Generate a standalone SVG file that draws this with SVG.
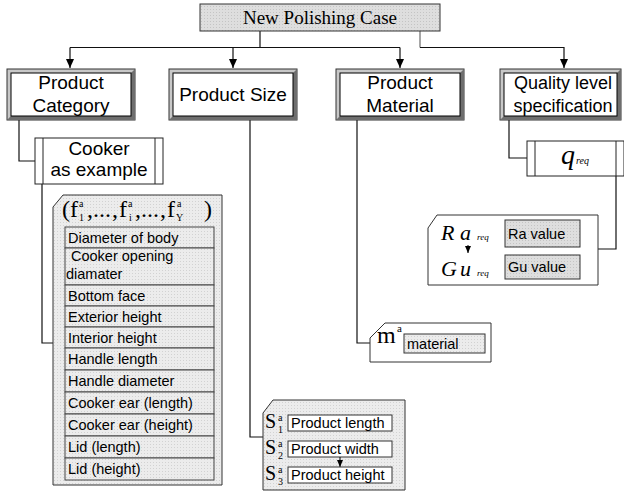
<svg xmlns="http://www.w3.org/2000/svg" width="624" height="495" viewBox="0 0 624 495">
<defs>
<pattern id="dots" width="3" height="3" patternUnits="userSpaceOnUse"><rect width="3" height="3" fill="#ececec"/><rect width="1" height="1" fill="#d2d2d2"/></pattern>
<pattern id="dots2" width="3" height="3" patternUnits="userSpaceOnUse"><rect width="3" height="3" fill="#dedede"/><rect width="1" height="1" fill="#c4c4c4"/></pattern>
<marker id="arr" markerWidth="8" markerHeight="9" refX="4" refY="9" orient="0" markerUnits="userSpaceOnUse"><path d="M0,0 L8,0 L4,9 z" fill="#000"/></marker>
<marker id="arrs" markerWidth="6" markerHeight="7" refX="3" refY="7" orient="0" markerUnits="userSpaceOnUse"><path d="M0,0 L6,0 L3,7 z" fill="#000"/></marker>
</defs>
<style>
.sans{font-family:"Liberation Sans",Arial,sans-serif;fill:#000}
.serif{font-family:"Liberation Serif","Times New Roman",serif;fill:#000}
.hdr{font-size:19px;text-anchor:middle}
.row{font-size:14.5px}
.outer{fill:#c8c8c8;stroke:#333;stroke-width:1}
.dark{fill:#6e6e6e}
.inner{fill:#fff;stroke:#000;stroke-width:1}
.ln{fill:none;stroke:#111;stroke-width:1.2}
.cell{fill:url(#dots);stroke:#444;stroke-width:1}
.note{stroke:#333;stroke-width:1}
.f{font-size:24px}
.s{font-size:10px}
</style>

<g id="connectors">
<path class="ln" d="M260,31 V47.5"/>
<path class="ln" d="M70,47.5 H400"/>
<path class="ln" d="M70,47.5 V68" marker-end="url(#arr)"/>
<path class="ln" d="M233,47.5 V68" marker-end="url(#arr)"/>
<path class="ln" d="M400,47.5 V68" marker-end="url(#arr)"/>
<path d="M420,31 V47.5" fill="none" stroke="#888" stroke-width="1.5"/>
<path class="ln" d="M420,47.5 H564 V68" marker-end="url(#arr)"/>
<path class="ln" d="M19,120 V161 H35"/>
<path class="ln" d="M42,184 V343 H53"/>
<path class="ln" d="M250,120 V437 H263"/>
<path class="ln" d="M357,120 V343 H370"/>
<path class="ln" d="M509,120 V158 H527"/>
<path class="ln" d="M616,176 V249 H598"/>
</g>

<g id="root">
<rect x="200" y="4" width="240" height="27" fill="url(#dots2)" stroke="#333"/>
<text class="serif" x="320" y="24" font-size="19" text-anchor="middle">New Polishing Case</text>
</g>

<g id="category">
<rect class="outer" x="7" y="69" width="128" height="51"/>
<polygon class="dark" points="135,69 135,120 7,120 11,116 131,116 131,73"/>
<rect class="inner" x="11" y="73" width="120" height="43"/>
<text class="sans hdr" x="71" y="89">Product</text>
<text class="sans hdr" x="71" y="112">Category</text>
</g>

<g id="size">
<rect class="outer" x="169" y="69" width="128" height="51"/>
<polygon class="dark" points="297,69 297,120 169,120 173,116 293,116 293,73"/>
<rect class="inner" x="173" y="73" width="120" height="43"/>
<text class="sans hdr" x="233" y="101">Product Size</text>
</g>

<g id="material">
<rect class="outer" x="336" y="69" width="128" height="51"/>
<polygon class="dark" points="464,69 464,120 336,120 340,116 460,116 460,73"/>
<rect class="inner" x="340" y="73" width="120" height="43"/>
<text class="sans hdr" x="400" y="89">Product</text>
<text class="sans hdr" x="400" y="112">Material</text>
</g>

<g id="quality">
<rect class="outer" x="500" y="69" width="121" height="51"/>
<polygon class="dark" points="621,69 621,120 500,120 504,116 617,116 617,73"/>
<rect class="inner" x="504" y="73" width="113" height="43"/>
<text class="sans" font-size="18" text-anchor="middle" x="563" y="89">Quality level</text>
<text class="sans" font-size="18" text-anchor="middle" x="563" y="112">specification</text>
</g>

<g id="cooker">
<rect x="35" y="138" width="128" height="46" fill="#fff" stroke="#222"/>
<path d="M43,138 V184 M155,138 V184" stroke="#222" fill="none"/>
<text class="sans hdr" x="99" y="155">Cooker</text>
<text class="sans hdr" x="99" y="176">as example</text>
</g>

<g id="features">
<polygon class="note" points="53,207 63,195 222,195 222,485 53,485" fill="url(#dots)"/>
<text class="serif f" x="62" y="217">(</text>
<text class="serif f" x="70" y="217">f</text>
<text class="serif s" x="79" y="207">a</text>
<text class="serif s" x="79" y="221">1</text>
<text class="serif f" x="87" y="217">,</text>
<text class="serif f" x="93" y="217">.</text>
<text class="serif f" x="99" y="217">.</text>
<text class="serif f" x="105" y="217">.</text>
<text class="serif f" x="112" y="217">,</text>
<text class="serif f" x="119" y="217">f</text>
<text class="serif s" x="128" y="207">a</text>
<text class="serif s" x="129" y="221">i</text>
<text class="serif f" x="135" y="217">,</text>
<text class="serif f" x="141" y="217">.</text>
<text class="serif f" x="147" y="217">.</text>
<text class="serif f" x="153" y="217">.</text>
<text class="serif f" x="160" y="217">,</text>
<text class="serif f" x="167" y="217">f</text>
<text class="serif s" x="177" y="207">a</text>
<text class="serif s" x="176" y="221">Y</text>
<text class="serif f" x="204" y="217">)</text>
<rect class="cell" x="65" y="227" width="149" height="21"/>
<rect class="cell" x="65" y="248" width="149" height="37"/>
<rect class="cell" x="65" y="285" width="149" height="21"/>
<rect class="cell" x="65" y="306" width="149" height="21"/>
<rect class="cell" x="65" y="327" width="149" height="21"/>
<rect class="cell" x="65" y="348" width="149" height="22"/>
<rect class="cell" x="65" y="370" width="149" height="22"/>
<rect class="cell" x="65" y="392" width="149" height="22"/>
<rect class="cell" x="65" y="414" width="149" height="22"/>
<rect class="cell" x="65" y="436" width="149" height="22"/>
<rect class="cell" x="65" y="458" width="149" height="22"/>
<text class="sans row" x="68" y="243">Diameter of body</text>
<text class="sans row" x="71" y="261">Cooker opening</text>
<text class="sans row" x="66" y="279">diamater</text>
<text class="sans row" x="68" y="301">Bottom face</text>
<text class="sans row" x="68" y="322">Exterior height</text>
<text class="sans row" x="68" y="343">Interior height</text>
<text class="sans row" x="68" y="364">Handle length</text>
<text class="sans row" x="68" y="386">Handle diameter</text>
<text class="sans row" x="68" y="408">Cooker ear (length)</text>
<text class="sans row" x="68" y="430">Cooker ear (height)</text>
<text class="sans row" x="68" y="452">Lid (length)</text>
<text class="sans row" x="68" y="474">Lid (height)</text>
</g>

<g id="size-detail">
<polygon class="note" points="263,413 273,400 405,400 405,490 263,490" fill="url(#dots)"/>
<text class="serif" font-size="20" x="265" y="428">S</text>
<text class="serif s" x="278" y="421">a</text>
<text class="serif s" x="278" y="433">1</text>
<rect x="288" y="415" width="104" height="16" fill="#fff" stroke="#333"/>
<text class="sans row" x="291" y="428">Product length</text>
<text class="serif" font-size="20" x="265" y="454">S</text>
<text class="serif s" x="278" y="447">a</text>
<text class="serif s" x="278" y="459">2</text>
<rect x="288" y="441" width="104" height="16" fill="#fff" stroke="#333"/>
<text class="sans row" x="291" y="454">Product width</text>
<path d="M340,457 V467" stroke="#000" marker-end="url(#arrs)"/>
<text class="serif" font-size="20" x="265" y="480">S</text>
<text class="serif s" x="278" y="473">a</text>
<text class="serif s" x="278" y="485">3</text>
<rect x="288" y="467" width="104" height="16" fill="#fff" stroke="#333"/>
<text class="sans row" x="291" y="480">Product height</text>
</g>

<g id="material-detail">
<polygon class="note" points="370,338 385,323 491,323 491,362 370,362" fill="#fff"/>
<text class="serif" font-size="24" x="377" y="343">m</text>
<text class="serif" font-size="11" x="397" y="332">a</text>
<rect x="404" y="334" width="81" height="19" fill="url(#dots)" stroke="#333"/>
<text class="sans row" x="407" y="349">material</text>
</g>

<g id="q-req">
<rect x="527" y="141" width="97" height="35" fill="#fff" stroke="#222"/>
<path d="M535,141 V176 M616,141 V176" stroke="#222" fill="none"/>
<text class="serif" font-size="28" font-style="italic" x="561" y="164">q</text>
<text class="serif" font-size="10" font-style="italic" x="576" y="164">req</text>
</g>

<g id="ra-gu">
<polygon class="note" points="428,228 437,215 598,215 598,285 428,285" fill="#fff"/>
<text class="serif" font-size="22" font-style="italic" x="441" y="240">R</text>
<text class="serif" font-size="22" font-style="italic" x="460" y="240">a</text>
<text class="serif" font-size="9" font-style="italic" x="477" y="240">req</text>
<path d="M468,245 V253" stroke="#000" marker-end="url(#arrs)"/>
<text class="serif" font-size="22" font-style="italic" x="441" y="276">G</text>
<text class="serif" font-size="22" font-style="italic" x="460" y="276">u</text>
<text class="serif" font-size="9" font-style="italic" x="477" y="276">req</text>
<rect x="505" y="220" width="75" height="27" fill="url(#dots2)" stroke="#333"/>
<text class="sans row" x="508" y="239">Ra value</text>
<rect x="505" y="255" width="75" height="24" fill="url(#dots2)" stroke="#333"/>
<text class="sans row" x="508" y="272">Gu value</text>
</g>
</svg>
